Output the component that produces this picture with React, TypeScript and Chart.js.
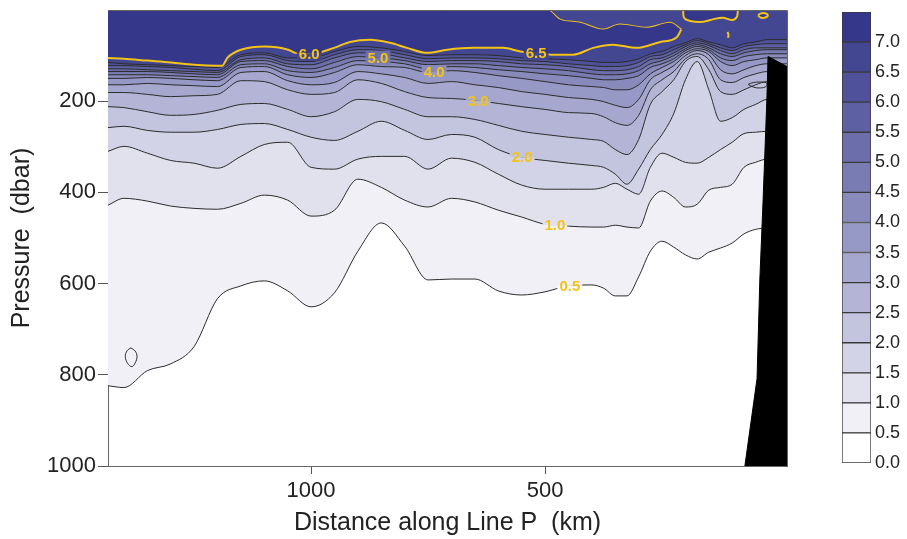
import React, { useEffect, useRef } from 'react';
import { Chart, registerables } from 'chart.js';

Chart.register(...registerables);

// ---------- data ----------
const distanceKm = [1434, 1400, 1350, 1300, 1250, 1200, 1150, 1100, 1050, 1000, 950, 900, 850, 800, 750, 700, 650, 600, 550, 500, 450, 400, 375, 350, 325, 300, 275, 250, 225, 200, 175, 150, 125, 100, 75, 50, 25, 0, -17];

// pressure (dbar) of each isoline along distanceKm
const iso05 = [824, 828, 791, 776, 738, 633, 605, 594, 616, 651, 620, 529, 467, 518, 592, 590, 590, 616, 625, 618, 605, 603, 610, 627, 627, 585, 529, 507, 520, 537, 546, 531, 522, 511, 491, 481, 478, 476, 476];
const iso10 = [428, 413, 419, 430, 435, 437, 424, 406, 417, 452, 439, 371, 389, 417, 432, 413, 421, 439, 454, 470, 474, 476, 476, 472, 476, 478, 419, 397, 411, 432, 426, 395, 389, 382, 345, 334, 327, 327, 327];
const iso15 = [310, 299, 314, 330, 336, 347, 321, 295, 290, 345, 349, 327, 321, 321, 349, 325, 334, 360, 384, 393, 393, 393, 389, 380, 393, 404, 345, 314, 323, 334, 336, 323, 306, 290, 271, 268, 266, 266, 266];
const iso20 = [258, 255, 264, 268, 268, 262, 251, 249, 262, 279, 286, 266, 244, 264, 284, 273, 279, 306, 323, 330, 336, 341, 345, 360, 382, 349, 306, 273, 227, 153, 113, 175, 244, 236, 218, 207, 196, 196, 196];
const iso25 = [212, 214, 223, 231, 229, 220, 207, 205, 218, 234, 223, 196, 201, 218, 234, 234, 240, 253, 266, 273, 279, 284, 288, 306, 317, 284, 207, 179, 153, 113, 102, 131, 179, 185, 175, 164, 157, 157, 157];
const iso30 = [181, 181, 185, 190, 188, 185, 155, 157, 175, 185, 181, 153, 161, 179, 192, 194, 198, 205, 212, 218, 225, 227, 234, 247, 253, 231, 175, 153, 135, 107, 96, 109, 153, 159, 148, 140, 135, 135, 135];
const iso35 = [164, 164, 161, 164, 166, 168, 137, 135, 155, 164, 159, 135, 140, 148, 161, 157, 164, 170, 179, 185, 192, 196, 201, 209, 214, 196, 153, 137, 122, 100, 89, 98, 131, 140, 131, 122, 118, 118, 118];
const iso40 = [150, 150, 148, 150, 153, 155, 126, 124, 142, 148, 137, 120, 124, 126, 137, 133, 137, 144, 150, 157, 164, 168, 170, 175, 175, 164, 140, 126, 113, 94, 85, 91, 113, 122, 113, 109, 105, 105, 105];
const iso45 = [142, 142, 142, 144, 146, 148, 120, 118, 133, 137, 126, 111, 113, 118, 129, 124, 126, 131, 135, 140, 144, 150, 153, 153, 150, 144, 126, 118, 107, 89, 80, 87, 105, 111, 102, 98, 96, 96, 96];
const iso50 = [135, 135, 135, 137, 140, 142, 113, 111, 124, 129, 115, 102, 105, 111, 120, 118, 118, 122, 126, 129, 133, 140, 142, 142, 140, 133, 118, 111, 100, 85, 76, 83, 96, 102, 94, 89, 87, 87, 87];
const iso55 = [129, 129, 131, 133, 135, 137, 109, 105, 118, 120, 105, 94, 96, 105, 113, 111, 111, 113, 118, 120, 124, 131, 133, 133, 131, 124, 109, 105, 94, 80, 72, 78, 89, 96, 87, 83, 83, 83, 83];
const iso60 = [122, 122, 124, 126, 130, 133, 102, 98, 111, 113, 98, 87, 89, 98, 107, 105, 105, 107, 111, 113, 118, 122, 124, 124, 122, 115, 102, 98, 87, 76, 67, 74, 83, 89, 80, 76, 74, 74, 74];
const iso65 = [115, 118, 120, 122, 124, 126, 98, 94, 105, 105, 91, 80, 83, 91, 100, 98, 98, 100, 105, 107, 109, 113, 115, 115, 113, 107, 96, 91, 80, 72, 63, 70, 76, 83, 74, 70, 65, 65, 65];

const levelValues = [0.5, 1.0, 1.5, 2.0, 2.5, 3.0, 3.5, 4.0, 4.5, 5.0, 5.5, 6.0, 6.5];
const isoDepths = [iso05, iso10, iso15, iso20, iso25, iso30, iso35, iso40, iso45, iso50, iso55, iso60, iso65];

// 7.0 isoline (yellow): lower and upper branches
const iso70LowerKm = [1434, 1400, 1350, 1299, 1250, 1201, 1190, 1179, 1165, 1150, 1100, 1049, 1034, 1000, 951, 917, 874, 831, 795, 752, 709, 654, 590, 553, 519, 483, 440, 397, 355, 304, 254, 218, 209];
const iso70LowerDbar = [105, 107, 111, 115, 120, 122, 122, 105, 94, 87, 80, 87, 94, 96, 83, 70, 65, 72, 83, 94, 87, 83, 83, 91, 94, 98, 98, 83, 76, 83, 70, 59, 43];
const iso70UpperKm = [1434, 496, 468, 425, 376, 340, 282, 233, 209];
const iso70UpperDbar = [0, 0, 21, 28, 43, 32, 39, 28, 43];
const iso70PatchKm = [205, 203, 190, 162, 140, 120, 100, 90, 88];
const iso70PatchDbar = [0, 17, 24, 26, 20, 17, 22, 15, 0];
const iso70DotKm = [45, 40, 30, 24, 28, 38, 45];
const iso70DotDbar = [12, 8, 7, 11, 16, 17, 12];
const iso70DashKm = [110, 108, 109];
const iso70DashDbar = [48, 55, 61];

// small closed contours
const eddyShelfKm = [66, 55, 40, 27, 27, 40, 55, 66];
const eddyShelfDbar = [163, 159, 158, 160, 167, 171, 169, 163];
const eddyWestKm = [1385, 1376, 1372, 1376, 1383, 1392, 1397, 1393, 1385];
const eddyWestDbar = [741, 748, 760, 774, 782, 775, 760, 747, 741];

// continental slope
const seabedKm = [73, 47, 41, 34, 26, 23.5, -17];
const seabedDbar = [1000, 808, 590, 415, 196, 102, 124];

// contour labels
const labelText = ['6.0', '5.0', '4.0', '3.0', '2.0', '1.0', '0.5', '6.5'];
const labelKm = [1004, 857, 737, 643, 549, 479, 447, 519];
const labelLevel = [7.0, 5.0, 4.0, 3.0, 2.0, 1.0, 0.5, 7.0];

const xTicks = [1000, 500];
const yTicks = [200, 400, 600, 800, 1000];
const colorbarTicks = [0, 0.5, 1, 1.5, 2, 2.5, 3, 3.5, 4, 4.5, 5, 5.5, 6, 6.5, 7];

// ---------- styles ----------
const bandColors = ['#ffffff', '#f0f0f6', '#e1e1ee', '#d2d3e6', '#c3c4de', '#b4b5d6', '#a5a7ce', '#9698c6', '#878aba', '#797cb2', '#6b6eaa', '#5d60a2', '#4f529a', '#434691', '#35388a'];
const LINE = '#2c2c2c';
const YELLOW = '#f3c318';
const FONT = '"Liberation Sans", Arial, Helvetica, sans-serif';
const TEXT = '#222222';

const pts = (xs: number[], ys: number[]) => xs.map((x, i) => ({ x, y: ys[i] }));

function interp(xs: number[], ys: number[], x: number) {
  for (let i = 0; i < xs.length - 1; i++) {
    const a = xs[i], b = xs[i + 1];
    if ((x <= a && x >= b) || (x >= a && x <= b)) {
      const t = (x - a) / (b - a || 1);
      return ys[i] + t * (ys[i + 1] - ys[i]);
    }
  }
  return ys[ys.length - 1];
}

const noPad = (s: any) => {
  s.paddingTop = 0;
  s.paddingBottom = 0;
  s.paddingLeft = 0;
  s.paddingRight = 0;
};

const framePlugin = {
  id: 'frameAndLabels',
  afterDatasetsDraw(chart: any) {
    const { ctx, chartArea: a, scales } = chart;
    ctx.save();
    ctx.font = `bold 15px ${FONT}`;
    ctx.textAlign = 'center';
    ctx.textBaseline = 'middle';
    labelText.forEach((t, i) => {
      const lv = labelLevel[i];
      let d: number;
      if (lv >= 7) d = interp(iso70LowerKm, iso70LowerDbar, labelKm[i]);
      else d = interp(distanceKm, isoDepths[levelValues.indexOf(lv)], labelKm[i]);
      const x = scales.x.getPixelForValue(labelKm[i]);
      const y = scales.y.getPixelForValue(d);
      const w = ctx.measureText(t).width + 4;
      const above = Math.round(lv / 0.5);
      ctx.fillStyle = bandColors[above];
      ctx.fillRect(x - w / 2, y - 7, w, 7);
      ctx.fillStyle = bandColors[above - 1];
      ctx.fillRect(x - w / 2, y, w, 7);
      ctx.fillStyle = YELLOW;
      ctx.fillText(t, x, y + 1);
    });
    ctx.strokeStyle = '#666';
    ctx.lineWidth = 1;
    ctx.beginPath();
    ctx.moveTo(a.left, a.top + 0.5);
    ctx.lineTo(a.right + 0.5, a.top + 0.5);
    ctx.lineTo(a.right + 0.5, a.bottom);
    ctx.stroke();
    ctx.restore();
  },
};

export default function App() {
  const mainRef = useRef<HTMLCanvasElement>(null);
  const barRef = useRef<HTMLCanvasElement>(null);

  useEffect(() => {
    const charts: Chart[] = [];
    const datasets: any[] = [];

    isoDepths.forEach((d, k) => {
      datasets.push({
        label: String(levelValues[k]),
        data: pts(distanceKm, d),
        borderColor: LINE,
        borderWidth: 1,
        backgroundColor: bandColors[k + 1],
        fill: { value: 0 },
        pointRadius: 0,
        cubicInterpolationMode: 'monotone',
        order: 15 - k,
      });
    });

    datasets.push({
      label: 'eddy shelf',
      data: pts(eddyShelfKm, eddyShelfDbar),
      borderColor: LINE, borderWidth: 1, fill: false, pointRadius: 0, tension: 0.4, order: 2.5,
    });
    datasets.push({
      label: 'eddy west',
      data: pts(eddyWestKm, eddyWestDbar),
      borderColor: LINE, borderWidth: 1, fill: false, pointRadius: 0, tension: 0.4, order: 2.5,
    });
    datasets.push({
      label: '7.0 lower',
      data: pts(iso70LowerKm, iso70LowerDbar),
      borderColor: YELLOW, borderWidth: 2,
      backgroundColor: bandColors[14],
      fill: '+1', pointRadius: 0, cubicInterpolationMode: 'monotone', order: 2,
    });
    datasets.push({
      label: '7.0 upper',
      data: pts(iso70UpperKm, iso70UpperDbar),
      borderColor: YELLOW, borderWidth: 2, fill: false, pointRadius: 0,
      cubicInterpolationMode: 'monotone', order: 2,
      segment: {
        borderColor: (c: any) => (c.p0.parsed.y < 0.5 && c.p1.parsed.y < 0.5 ? 'rgba(0,0,0,0)' : YELLOW),
      },
    });
    datasets.push({
      label: '7.0 patch',
      data: pts(iso70PatchKm, iso70PatchDbar),
      borderColor: YELLOW, borderWidth: 2, backgroundColor: bandColors[14],
      fill: { value: 0 }, pointRadius: 0, tension: 0.3, order: 1,
    });
    datasets.push({
      label: '7.0 dot',
      data: pts(iso70DotKm, iso70DotDbar),
      borderColor: YELLOW, borderWidth: 2, backgroundColor: bandColors[14],
      fill: 'shape', pointRadius: 0, tension: 0.4, order: 1,
    });
    datasets.push({
      label: '7.0 dash',
      data: pts(iso70DashKm, iso70DashDbar),
      borderColor: YELLOW, borderWidth: 2, fill: false, pointRadius: 0, tension: 0.3, order: 1,
    });
    datasets.push({
      label: 'seabed',
      data: pts(seabedKm, seabedDbar),
      borderColor: '#000', borderWidth: 1, backgroundColor: '#000',
      fill: { value: 1000 }, pointRadius: 0, tension: 0, order: 0,
    });

    const main = new Chart(mainRef.current as HTMLCanvasElement, {
      type: 'line',
      data: { datasets },
      plugins: [framePlugin],
      options: {
        animation: false,
        responsive: false,
        devicePixelRatio: 1,
        events: [],
        layout: { padding: { top: 10, right: 43, left: 0, bottom: 0 } },
        plugins: { legend: { display: false }, tooltip: { enabled: false } },
        scales: {
          x: {
            type: 'linear',
            reverse: true,
            min: -17,
            max: 1434,
            afterBuildTicks: (s: any) => { s.ticks = xTicks.map((v) => ({ value: v })); },
            afterFit: (s: any) => { s.height = 73; noPad(s); },
            ticks: { font: { family: FONT, size: 22 }, color: TEXT, padding: 4, maxRotation: 0, callback: (v: any) => String(v) },
            grid: { drawOnChartArea: false, drawTicks: true, tickLength: 8, color: '#555' },
            border: { display: true, color: '#666', width: 1 },
            title: { display: true, text: 'Distance along Line P  (km)', font: { family: FONT, size: 25 }, color: TEXT, padding: { top: 0, bottom: 1 } },
          },
          y: {
            type: 'linear',
            reverse: true,
            min: 0,
            max: 1000,
            afterBuildTicks: (s: any) => { s.ticks = yTicks.map((v) => ({ value: v })); },
            afterFit: (s: any) => { s.width = 108; noPad(s); },
            ticks: { font: { family: FONT, size: 22 }, color: TEXT, padding: 2, callback: (v: any) => String(v) },
            grid: { drawOnChartArea: false, drawTicks: true, tickLength: 10, color: '#555' },
            border: { display: true, color: '#666', width: 1 },
            title: { display: true, text: 'Pressure  (dbar)', font: { family: FONT, size: 25 }, color: TEXT, padding: { top: 7, bottom: 0 } },
          },
        },
      } as any,
    });
    charts.push(main);

    const cb = new Chart(barRef.current as HTMLCanvasElement, {
      type: 'bar',
      data: {
        labels: [''],
        datasets: bandColors.map((c) => ({
          data: [0.5],
          backgroundColor: c,
          borderColor: '#3a3a3a',
          borderWidth: 1,
          borderSkipped: false,
          barPercentage: 1,
          categoryPercentage: 1,
        })),
      },
      options: {
        animation: false,
        responsive: false,
        devicePixelRatio: 1,
        events: [],
        layout: { padding: { left: 12, top: 12, bottom: 76, right: 0 } },
        plugins: { legend: { display: false }, tooltip: { enabled: false } },
        scales: {
          x: { display: false, stacked: true },
          y: {
            stacked: true,
            position: 'right',
            min: 0,
            max: 7.5,
            afterBuildTicks: (s: any) => { s.ticks = colorbarTicks.map((v) => ({ value: v })); },
            afterFit: (s: any) => { s.width = 36; noPad(s); },
            ticks: { font: { family: FONT, size: 18 }, color: TEXT, padding: 4, callback: (v: any) => Number(v).toFixed(1) },
            grid: { display: false, drawTicks: false },
            border: { display: false },
          },
        },
      } as any,
    });
    charts.push(cb);

    return () => charts.forEach((c) => c.destroy());
  }, []);

  return (
    <div style={{ position: 'absolute', left: 0, top: 0, width: 907, height: 539, background: '#fff' }}>
      <canvas ref={mainRef} width={830} height={539} style={{ position: 'absolute', left: 0, top: 0, width: 830, height: 539 }} />
      <canvas ref={barRef} width={77} height={539} style={{ position: 'absolute', left: 830, top: 0, width: 77, height: 539 }} />
    </div>
  );
}
